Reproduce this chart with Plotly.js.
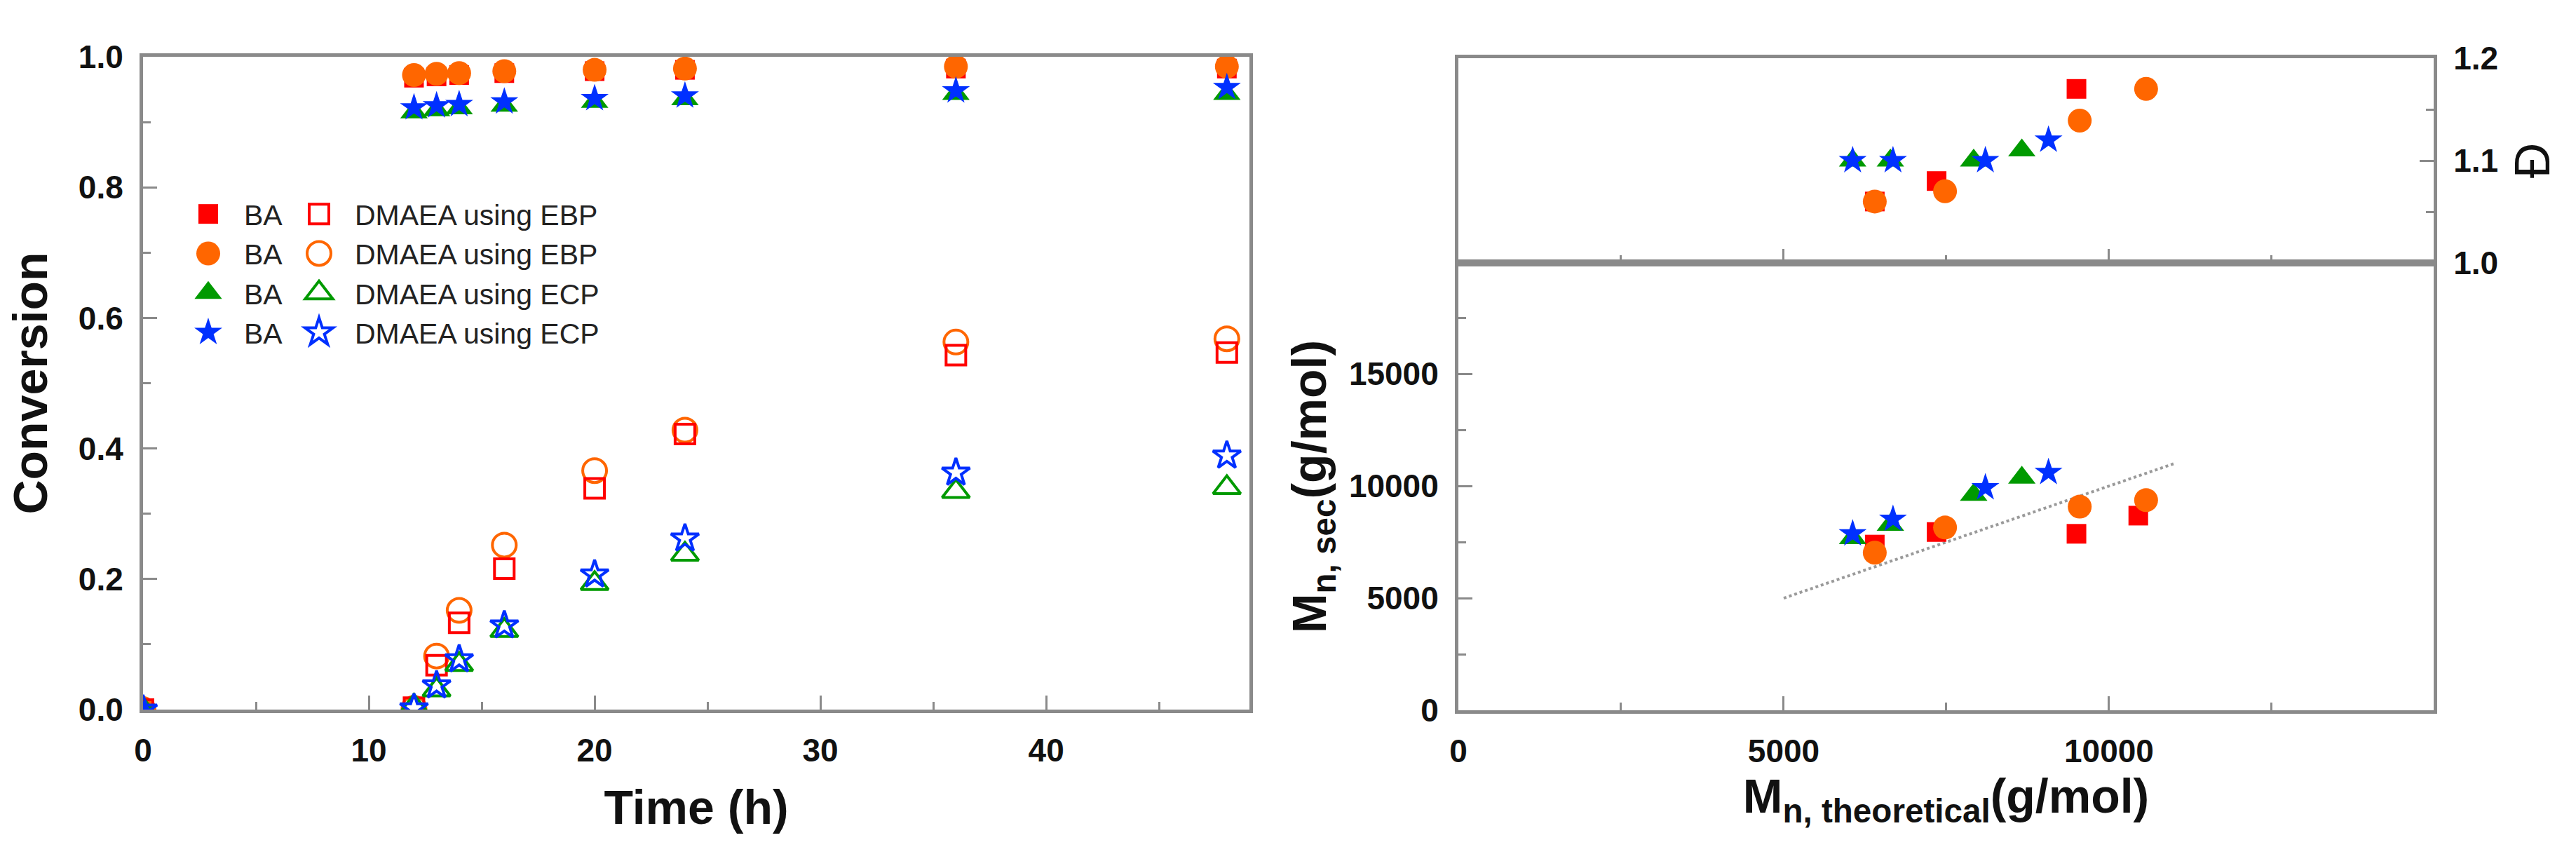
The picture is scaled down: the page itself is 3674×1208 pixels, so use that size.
<!DOCTYPE html>
<html>
<head>
<meta charset="utf-8">
<script src="https://cdn.plot.ly/plotly-3.0.1.min.js"></script>
<style>html,body{margin:0;padding:0;background:#fff;}#chart{width:3674px;height:1208px;}</style>
</head>
<body>
<div id="chart"></div>
<script>
// ---------- Data: conversion vs time ----------
const timeH = [0, 12, 13, 14, 16, 20, 24, 36, 48];
const baEbpSq   = [0, 0.968, 0.970, 0.972, 0.975, 0.978, 0.980, 0.982, 0.982];
const baEbpCi   = [0, 0.972, 0.974, 0.975, 0.978, 0.980, 0.982, 0.985, 0.985];
const baEcpTri  = [0, 0.915, 0.918, 0.921, 0.925, 0.931, 0.935, 0.943, 0.943];
const baEcpStar = [0, 0.922, 0.925, 0.927, 0.931, 0.936, 0.940, 0.948, 0.953];
const dmEbpSq   = [0, 0.003, 0.068, 0.133, 0.216, 0.339, 0.422, 0.543, 0.547];
const dmEbpCi   = [0, 0.002, 0.082, 0.152, 0.252, 0.366, 0.428, 0.563, 0.568];
const dmEcpTri  = [0, 0.005, 0.030, 0.069, 0.121, 0.193, 0.238, 0.334, 0.340];
const dmEcpStar = [0, 0.002, 0.037, 0.077, 0.129, 0.207, 0.262, 0.363, 0.389];

// ---------- Data: Mn,sec and dispersity vs Mn,theoretical ----------
const mnTheoSq   = [6400, 7350, 9500, 10450];
const mnSecSq    = [7390, 7950, 7870, 8680];
const dispSq     = [1.060, 1.080, 1.170, null];
const mnTheoCi   = [6400, 7480, 9550, 10570];
const mnSecCi    = [7030, 8150, 9080, 9370];
const dispCi     = [1.060, 1.070, 1.139, 1.170];
const mnTheoTri  = [6060, 6640, 7920, 8660];
const mnSecTri   = [7680, 8270, 9610, 10370];
const dispTri    = [1.100, 1.100, 1.100, 1.110];
const mnTheoStar = [6060, 6680, 8100, 9070];
const mnSecStar  = [7870, 8520, 9930, 10610];
const dispStar   = [1.100, 1.100, 1.100, 1.120];
const idealX = [5000, 11000];
const idealY = [5000, 11000];

const legendBA = ['BA', 'BA', 'BA', 'BA'];
const legendDM = ['DMAEA using EBP', 'DMAEA using EBP', 'DMAEA using ECP', 'DMAEA using ECP'];

// ---------- Styles ----------
const RED = '#ff0000', ORANGE = '#ff6600', GREEN = '#009a00', BLUE = '#0030ff';
const FONT = 'Liberation Sans, Arial, Helvetica, sans-serif';
const AX = '#8a8a8a';
const SZ = {square: 28, circle: 34, 'triangle-up': 34, star: 30};

function filled(x, y, sym, color, name, rank, xa, ya, legend) {
  return {x: x, y: y, type: 'scatter', mode: 'markers', name: name, xaxis: xa, yaxis: ya,
    legend: legend || 'legend', showlegend: !!legend, legendrank: rank,
    marker: {symbol: sym, size: SZ[sym], color: color, line: {width: 0}}};
}
function open(x, y, sym, color, name, rank) {
  return {x: x, y: y, type: 'scatter', mode: 'markers', name: name, xaxis: 'x', yaxis: 'y',
    legend: 'legend2', legendrank: rank,
    marker: {symbol: sym + '-open', size: SZ[sym], color: color, line: {width: 4, color: color}}};
}

const traces = [
  filled(timeH, baEbpSq, 'square', RED, legendBA[0], 1, 'x', 'y', 'legend'),
  filled(timeH, baEbpCi, 'circle', ORANGE, legendBA[1], 2, 'x', 'y', 'legend'),
  filled(timeH, baEcpTri, 'triangle-up', GREEN, legendBA[2], 3, 'x', 'y', 'legend'),
  filled(timeH, baEcpStar, 'star', BLUE, legendBA[3], 4, 'x', 'y', 'legend'),
  open(timeH, dmEbpCi, 'circle', ORANGE, legendDM[1], 2),
  open(timeH, dmEbpSq, 'square', RED, legendDM[0], 1),
  open(timeH, dmEcpTri, 'triangle-up', GREEN, legendDM[2], 3),
  open(timeH, dmEcpStar, 'star', BLUE, legendDM[3], 4),
  // right: Mn,sec
  {x: idealX, y: idealY, type: 'scatter', mode: 'lines', xaxis: 'x2', yaxis: 'y2', showlegend: false,
   line: {color: '#9a9a9a', width: 4, dash: 'dot'}},
  filled(mnTheoSq, mnSecSq, 'square', RED, 'EBP (square)', 5, 'x2', 'y2', null),
  filled(mnTheoCi, mnSecCi, 'circle', ORANGE, 'EBP (circle)', 6, 'x2', 'y2', null),
  filled(mnTheoTri, mnSecTri, 'triangle-up', GREEN, 'ECP (triangle)', 7, 'x2', 'y2', null),
  filled(mnTheoStar, mnSecStar, 'star', BLUE, 'ECP (star)', 8, 'x2', 'y2', null),
  // right: dispersity
  filled(mnTheoSq, dispSq, 'square', RED, 'Đ EBP (square)', 9, 'x3', 'y3', null),
  filled(mnTheoCi, dispCi, 'circle', ORANGE, 'Đ EBP (circle)', 10, 'x3', 'y3', null),
  filled(mnTheoTri, dispTri, 'triangle-up', GREEN, 'Đ ECP (triangle)', 11, 'x3', 'y3', null),
  filled(mnTheoStar, dispStar, 'star', BLUE, 'Đ ECP (star)', 12, 'x3', 'y3', null)
];

const tickFont = {family: FONT, size: 46, color: '#111', weight: 'bold'};
const titleFont = {family: FONT, size: 68, color: '#111', weight: 'bold'};
function axisBase(extra) {
  return Object.assign({
    showgrid: false, zeroline: false, showline: true, linecolor: AX, linewidth: 5, mirror: true,
    ticks: 'inside', ticklen: 20, tickwidth: 3, tickcolor: AX, tickfont: tickFont,
    ticklabelstandoff: 14, fixedrange: true
  }, extra);
}
function minor(dt) { return {tickmode: 'linear', tick0: 0, dtick: dt, ticks: 'inside', ticklen: 11, tickwidth: 3, tickcolor: AX}; }

const W = 3674, H = 1208;
const legendFont = {family: FONT, size: 41, color: '#222'};
const layout = {
  width: W, height: H, margin: {l: 0, r: 0, t: 0, b: 0},
  paper_bgcolor: '#ffffff', plot_bgcolor: '#ffffff',
  font: {family: FONT, color: '#111'},
  xaxis: axisBase({domain: [204 / W, 1782 / W], anchor: 'y', range: [0, 49], dtick: 10, tick0: 0,
    minor: minor(5), title: {text: 'Time (h)', font: titleFont, standoff: 34}}),
  yaxis: axisBase({domain: [1 - 1012 / H, 1 - 81 / H], anchor: 'x', range: [0, 1], dtick: 0.2, tick0: 0,
    tickformat: '.1f', minor: minor(0.1), title: {text: 'Conversion', font: titleFont, standoff: 24}}),
  xaxis2: axisBase({domain: [2080 / W, 3471 / W], anchor: 'y2', range: [0, 14990], dtick: 5000, tick0: 0,
    tickformat: 'd', minor: minor(2500),
    title: {text: 'M<sub>n, theoretical</sub>(g/mol)', font: titleFont, standoff: 4}}),
  yaxis2: axisBase({domain: [1 - 1013 / H, 1 - 375 / H], anchor: 'x2', range: [0, 19950], dtick: 5000, tick0: 0,
    tickformat: 'd', minor: minor(2500),
    title: {text: 'M<sub>n, sec</sub>(g/mol)', font: titleFont, standoff: 12}}),
  xaxis3: axisBase({domain: [2080 / W, 3471 / W], anchor: 'y3', matches: 'x2', range: [0, 14990], dtick: 5000,
    tick0: 0, minor: minor(2500), showticklabels: false}),
  yaxis3: axisBase({domain: [1 - 375 / H, 1 - 83 / H], anchor: 'x3', side: 'right', range: [1.0, 1.2],
    dtick: 0.1, tick0: 1.0, tickformat: '.1f', minor: minor(0.05),
    title: {text: 'Đ', font: {family: FONT, size: 70, color: '#111'}, standoff: 26}}),
  legend: {x: 246 / W, y: 1 - 272 / H, xanchor: 'left', yanchor: 'top', bgcolor: 'rgba(0,0,0,0)',
    borderwidth: 0, itemwidth: 92, font: legendFont, traceorder: 'normal'},
  legend2: {x: 404 / W, y: 1 - 272 / H, xanchor: 'left', yanchor: 'top', bgcolor: 'rgba(0,0,0,0)',
    borderwidth: 0, itemwidth: 92, font: legendFont, traceorder: 'normal'}
};

Plotly.newPlot('chart', traces, layout, {staticPlot: true, displayModeBar: false}).then(function (gd) {
  // Plotly caps legend symbols at 16 px; scale them up to the trace's own marker size.
  gd.querySelectorAll('g.traces').forEach(function (g) {
    var d = g.__data__;
    var tr = d && d[0] && d[0].trace;
    if (!tr || !tr.marker) return;
    var s = tr.marker.size / 16;
    g.querySelectorAll('.legendpoints path.scatterpts').forEach(function (p) {
      var t = p.getAttribute('transform') || '';
      p.setAttribute('transform', t + ' scale(' + s + ')');
      p.style.vectorEffect = 'non-scaling-stroke';
    });
  });
});
</script>
</body>
</html>
